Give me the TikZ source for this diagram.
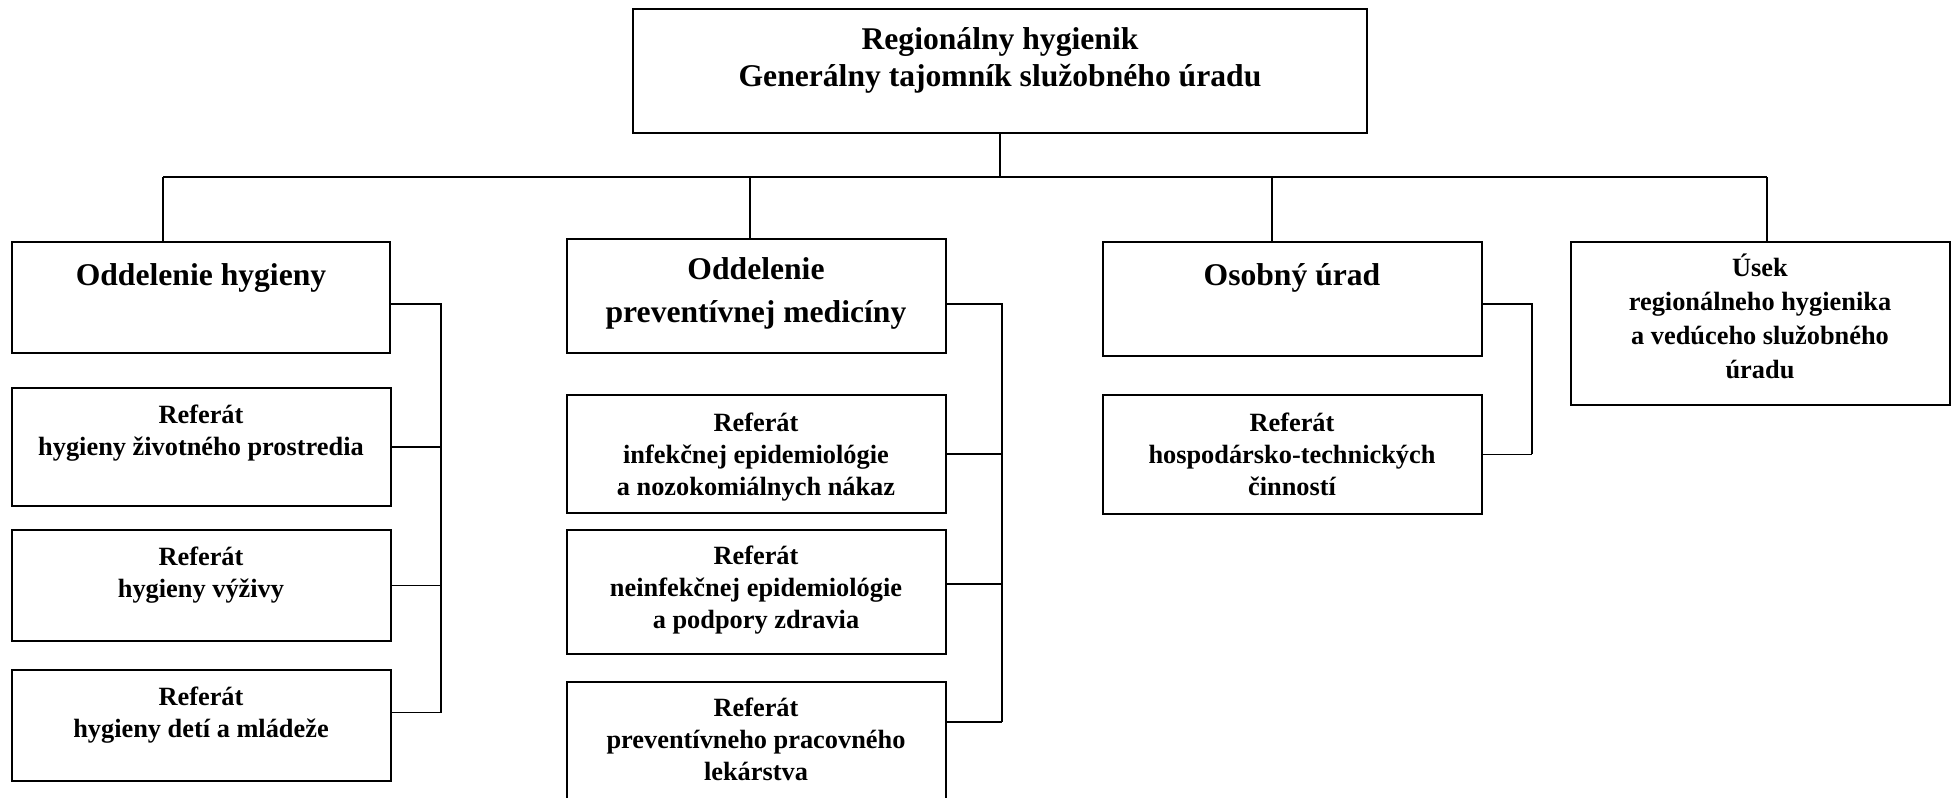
\documentclass[tikz,border=0pt]{standalone}
\usepackage{fontspec}
\setmainfont{Liberation Serif}
\usetikzlibrary{positioning}

\begin{document}
\begin{tikzpicture}[x=0.02cm,y=-0.02cm]
\tikzset{box/.style={draw,line width=1.2pt,anchor=north west,inner sep=0pt,outer sep=0pt,minimum width=7.58cm}}
\tikzset{bigtext/.style={anchor=base,align=center,inner sep=0pt,font=\fontsize{18}{21}\selectfont\bfseries}}
\tikzset{smalltext/.style={anchor=base,align=center,inner sep=0pt,font=\fontsize{15}{18}\selectfont\bfseries}}
\tikzset{link/.style={line width=0.8pt}}

\clip (0,0) rectangle (1955,798);

% top (text placed by its last baseline)
\node[box,minimum width=14.68cm,minimum height=2.48cm] (reg) at (633,9) {};
\node[bigtext] (regtext) at (1000,86) {Regionálny hygienik\\Generálny tajomník služobného úradu};

% departments
\node[box,minimum width=7.56cm,minimum height=2.22cm] (hyg) at (12,242) {};
\node[box,minimum height=2.28cm] (prev) at (567,239) {};
\node[box,minimum height=2.28cm] (osob) at (1103,242) {};
\node[box,minimum width=7.58cm,minimum height=3.26cm] (usek) at (1571,242) {};

\node[bigtext] (hygtext) at (201,285) {Oddelenie hygieny};
\node[bigtext,font=\fontsize{18}{24}\selectfont\bfseries] (prevtext) at (756,322) {Oddelenie\\preventívnej medicíny};
\node[bigtext] (osobtext) at (1292,285) {Osobný úrad};
\node[smalltext,font=\fontsize{15}{19.3}\selectfont\bfseries] (usektext) at (1760,378) {Úsek\\regionálneho hygienika\\a vedúceho služobného\\úradu};

% referaty
\node[box,minimum height=2.36cm] (zp) at (12,388) {};
\node[box,minimum height=2.22cm] (vyz) at (12,530) {};
\node[box,minimum height=2.22cm] (deti) at (12,670) {};
\node[box,minimum height=2.36cm] (inf) at (567,395) {};
\node[box,minimum height=2.48cm] (neinf) at (567,530) {};
\node[box,minimum height=2.6cm] (prac) at (567,682) {};
\node[box,minimum height=2.38cm] (hosp) at (1103,395) {};

\node[smalltext] (zptext) at (201,455) {Referát\\hygieny životného prostredia};
\node[smalltext] (vyztext) at (201,597) {Referát\\hygieny výživy};
\node[smalltext] (detitext) at (201,737) {Referát\\hygieny detí a mládeže};
\node[smalltext] (inftext) at (756,495) {Referát\\infekčnej epidemiológie\\a nozokomiálnych nákaz};
\node[smalltext] (neinftext) at (756,628) {Referát\\neinfekčnej epidemiológie\\a podpory zdravia};
\node[smalltext] (practext) at (756,780) {Referát\\preventívneho pracovného\\lekárstva};
\node[smalltext] (hosptext) at (1292,495) {Referát\\hospodársko-technických\\činností};

% bus
\coordinate (b1) at (163,177);
\coordinate (b2) at (750,177);
\coordinate (b3) at (1272,177);
\coordinate (b4) at (1767,177);
\draw[line width=1.3pt] (b1) -- (b4);
\draw[link] (reg.south) -- (reg.south |- b1);
\draw[link] (b1) -- (b1 |- hyg.north);
\draw[link] (b2) -- (b2 |- prev.north);
\draw[link] (b3) -- (b3 |- osob.north);
\draw[link] (b4) -- (b4 |- usek.north);

% brackets
\coordinate (k1) at (441,304);
\coordinate (k2) at (1002,304);
\coordinate (k3) at (1532,304);
\coordinate (deti-in) at ([yshift=0.26cm]deti.east);
\coordinate (neinf-in) at ([yshift=0.16cm]neinf.east);
\coordinate (prac-in) at ([yshift=0.5cm]prac.east);
\draw[link] (hyg.east |- k1) -- (k1) -- (k1 |- deti-in);
\draw[link] (zp.east) -- (zp.east -| k1);
\draw[link] (vyz.east) -- (vyz.east -| k1);
\draw[link] (deti-in) -- (deti-in -| k1);
\draw[link] (prev.east |- k2) -- (k2) -- (k2 |- prac-in);
\draw[link] (inf.east) -- (inf.east -| k2);
\draw[link] (neinf-in) -- (neinf-in -| k2);
\draw[link] (prac-in) -- (prac-in -| k2);
\draw[link] (osob.east |- k3) -- (k3) -- (k3 |- hosp.east);
\draw[link] (hosp.east) -- (hosp.east -| k3);
\end{tikzpicture}
\end{document}
